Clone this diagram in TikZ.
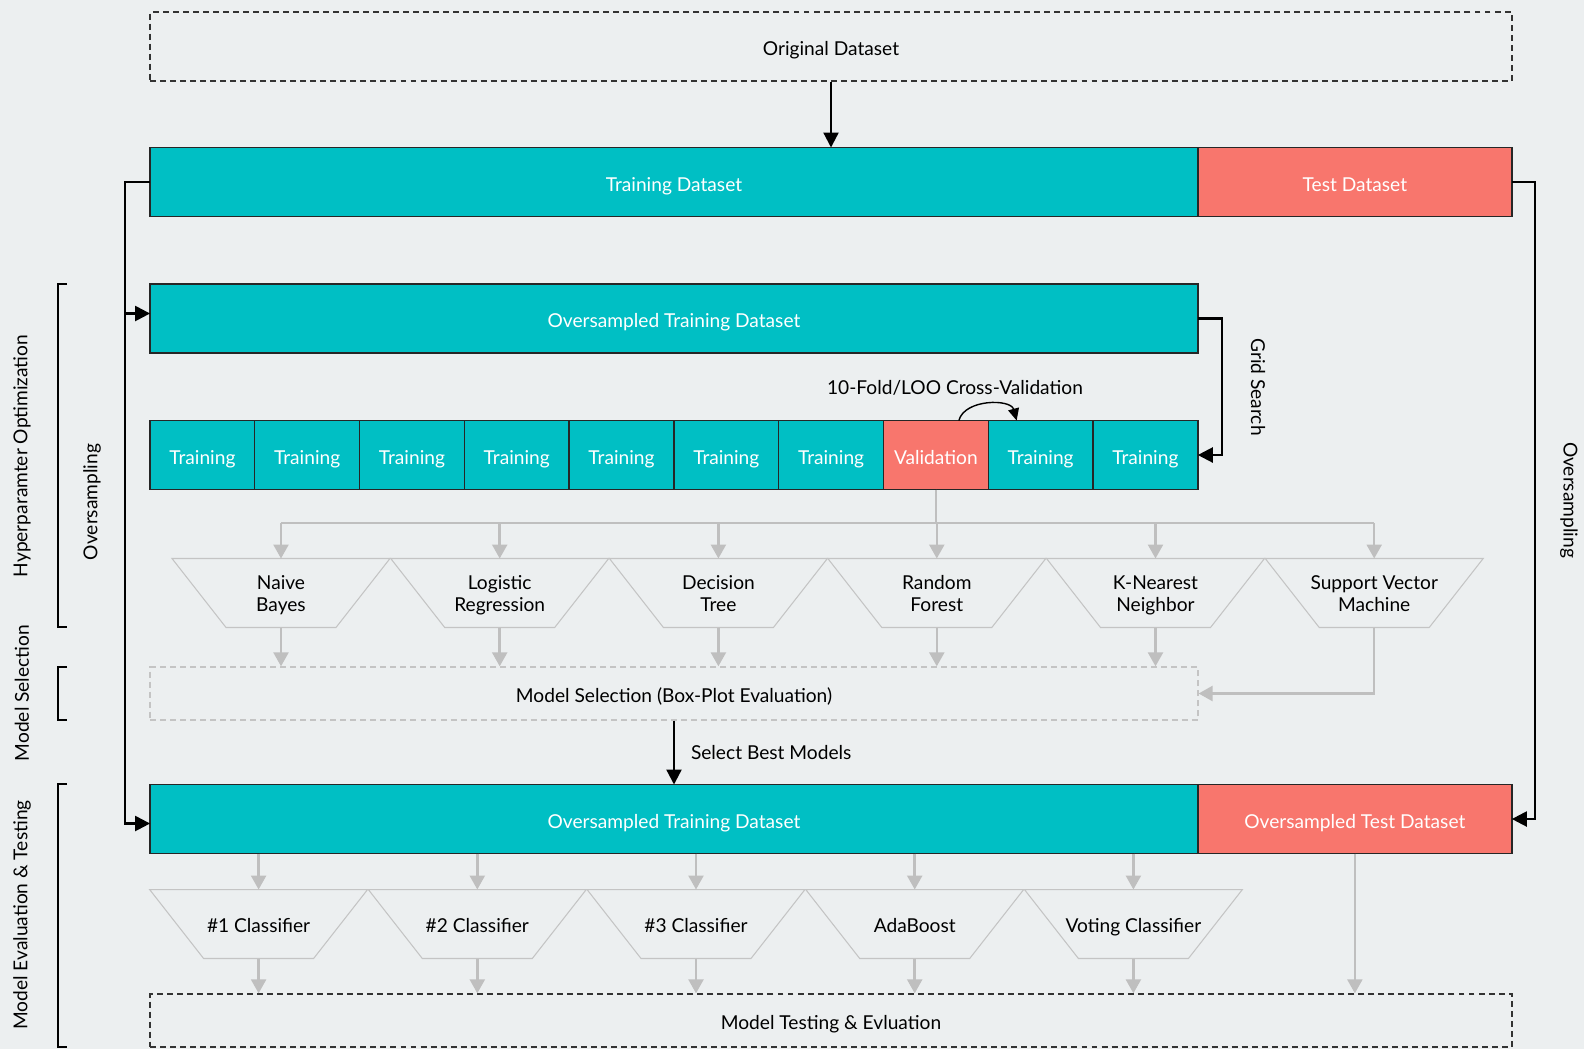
\documentclass[tikz,border=0pt]{standalone}
\usepackage{fontspec}
\setmainfont{Lato}
\usepackage{tikz}
\usetikzlibrary{calc,positioning,arrows.meta,shapes,fit,backgrounds}

\definecolor{bgcol}{HTML}{ECEFF0}
\definecolor{trainteal}{HTML}{00BFC4}
\definecolor{testred}{HTML}{F8766D}
\definecolor{flowgray}{HTML}{BFBFBF}
\definecolor{edgegray}{HTML}{C4C4C4}

\begin{document}
\begin{tikzpicture}[x=0.02cm, y=-0.02cm, align=center,
    font=\fontsize{10.9}{12.9}\selectfont,
    oneline/.style={text height=11pt, text depth=0.6pt},
    box/.style={oneline, draw=black!85, line width=0.8pt, outer sep=0pt, minimum height=1.38cm, inner sep=0pt, text=white},
    cell/.style={box, fill=trainteal, minimum width=2.096cm},
    dashbox/.style={oneline, line width=0.8pt, dash pattern=on 3.4pt off 2.3pt, inner sep=0pt},
    model/.style={minimum width=4.36cm, minimum height=1.38cm, inner sep=0pt, outer sep=0pt,
        execute at begin node=\rule{0pt}{#1}, execute at end node=\rule[-3pt]{0pt}{3pt}},
    model/.default=12.5pt,
    trap/.style={draw=edgegray, line width=0.6pt},
    flow/.style={draw=black, line width=1.3pt, -{Triangle[length=0.3cm, width=0.3cm]}},
    gline/.style={draw=flowgray, line width=1.4pt},
    gflow/.style={gline, -{Triangle[length=0.28cm, width=0.3cm]}},
    bracket/.style={draw=black, line width=1.3pt}]

    \fill[bgcol] (0,0) rectangle (1584,1049);
    \useasboundingbox (0,0) rectangle (1584,1049);

    \node [dashbox, draw=black!80, minimum width=27.24cm, minimum height=1.38cm] (orig) at (831,46.5) {Original Dataset};

    \node [box, fill=trainteal, minimum width=20.96cm] (train) at (674,182) {Training Dataset};
    \node [box, fill=testred, minimum width=6.28cm, right=0pt of train] (test) {Test Dataset};

    \node [box, fill=trainteal, minimum width=20.96cm] (ovtrain) at (674,318.5) {Oversampled Training Dataset};

    % folds
    \node [cell] (c1) at (202.4,455) {Training};
    \foreach \i/\j/\txt/\cl in {2/1/Training/trainteal, 3/2/Training/trainteal, 4/3/Training/trainteal,
        5/4/Training/trainteal, 6/5/Training/trainteal, 7/6/Training/trainteal, 8/7/Validation/testred,
        9/8/Training/trainteal, 10/9/Training/trainteal}
        \node [cell, fill=\cl, right=0pt of c\j] (c\i) {\txt};

    \node (cv) at (955,388) {10-Fold/LOO Cross-Validation};
    \node [rotate=-90] (grid) at (1258,387) {Grid Search};

    % candidate models
    \foreach \i/\x/\txt in {1/281/Naive\\Bayes, 2/499.7/Logistic\\Regression, 3/718.4/Decision\\Tree,
        4/936.8/Random\\Forest, 5/1155.5/K-Nearest\\Neighbor, 6/1374.2/Support Vector\\Machine}
        \node [model=24.3pt] (m\i) at (\x,593) {\txt};
    \foreach \i in {1,...,6}
        \draw[trap] (m\i.north west) -- (m\i.north east) -- ([xshift=-1.08cm]m\i.south east) -- ([xshift=1.08cm]m\i.south west) -- cycle;

    \node [dashbox, draw=edgegray, minimum width=20.96cm, minimum height=1.06cm] (msel) at (674,693.5) {Model Selection (Box-Plot Evaluation)};

    \node [box, fill=trainteal, minimum width=20.96cm] (ovtrain2) at (674,819) {Oversampled Training Dataset};
    \node [box, fill=testred, minimum width=6.28cm, right=0pt of ovtrain2] (ovtest) {Oversampled Test Dataset};

    % final classifiers
    \foreach \i/\x/\txt in {1/258.6/\#1 Classifier, 2/477.3/\#2 Classifier, 3/696/\#3 Classifier,
        4/914.7/AdaBoost, 5/1133.4/Voting Classifier}
        \node [model] (b\i) at (\x,924) {\txt};
    \foreach \i in {1,...,5}
        \draw[trap] (b\i.north west) -- (b\i.north east) -- ([xshift=-1.08cm]b\i.south east) -- ([xshift=1.08cm]b\i.south west) -- cycle;

    \node [dashbox, draw=black!80, minimum width=27.24cm, minimum height=1.06cm] (mtest) at (831,1020.5) {Model Testing \& Evluation};

    % black connectors
    \coordinate (lrail) at (125,182);
    \coordinate (rrail) at (1535,182);
    \draw[flow] (orig.south) -- (orig.south |- train.north);
    \draw[flow] (train.west) -- (lrail) |- ([yshift=0.1cm]ovtrain.west);
    \draw[flow] (lrail) |- ([yshift=-0.09cm]ovtrain2.west);
    \draw[flow] (test.east) -- (rrail) |- (ovtest.east);
    \draw[flow] (ovtrain.east) -- ++(24,0) |- (c10.east);
    \draw[line width=0.8pt, -{Triangle[length=0.24cm, width=0.22cm]}] ([xshift=0.46cm]c8.north) to[bend left=75] ([xshift=-0.48cm]c9.north);
    \draw[flow] (msel.south) -- node[right=0.2cm] {Select Best Models} (ovtrain2.north);

    % gray connectors
    \coordinate (split) at (0,523);
    \draw[gline] (c8.south) -- (c8.south |- split);
    \draw[gline] (m1.north |- split) -- (m6.north |- split);
    \foreach \i in {1,...,6}
        \draw[gflow] (m\i.north |- split) -- (m\i.north);
    \foreach \i in {1,...,5}
        \draw[gflow] (m\i.south) -- (m\i.south |- msel.north);
    \draw[gflow] (m6.south) |- (msel.east);
    \foreach \i in {1,...,5} {
        \draw[gflow] (b\i.north |- ovtrain2.south) -- (b\i.north);
        \draw[gflow] (b\i.south) -- (b\i.south |- mtest.north);
    }
    \draw[gflow] (ovtest.south) -- (ovtest.south |- mtest.north);

    % stage brackets
    \draw[bracket] (67,284) -- (58,284) -- (58,627) -- (67,627);
    \draw[bracket] (67,667) -- (58,667) -- (58,720) -- (67,720);
    \draw[bracket] (67,784) -- (58,784) -- (58,1047) -- (67,1047);
    \node [rotate=90] (hpo) at (22,456) {Hyperparamter Optimization};
    \node [rotate=90] (mselbl) at (22,693) {Model Selection};
    \node [rotate=90] (evlbl) at (22,915) {Model Evaluation \& Testing};
    \node [rotate=90] (ovl) at (92,502) {Oversampling};
    \node [rotate=-90] (ovr) at (1569,500) {Oversampling};

\end{tikzpicture}
\end{document}
